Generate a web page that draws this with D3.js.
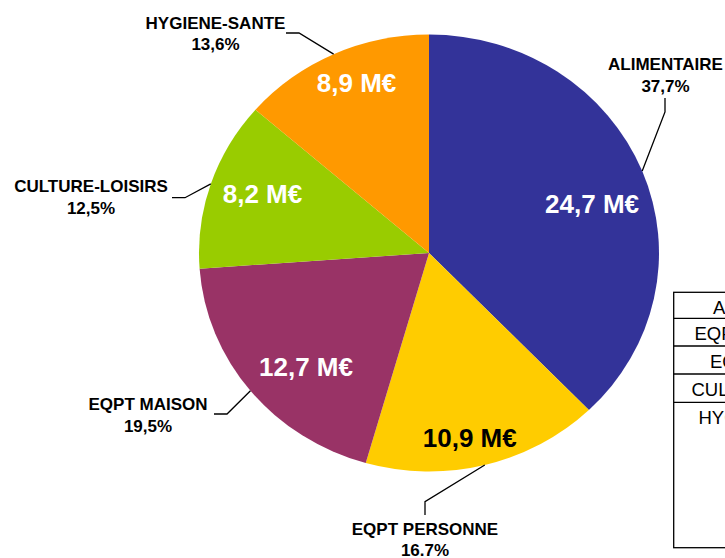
<!DOCTYPE html>
<html><head><meta charset="utf-8">
<script src="https://cdn.jsdelivr.net/npm/d3@7/dist/d3.min.js"></script>
<style>body{margin:0;background:#fff}svg{display:block}</style>
</head><body>
<svg id="c" width="725" height="558"></svg>
<script>
// ---- data ----
const categories = ["ALIMENTAIRE", "EQPT PERSONNE", "EQPT MAISON", "CULTURE-LOISIRS", "HYGIENE-SANTE"];
const values = [24.7, 10.9, 12.7, 8.2, 8.9];           // M€
const valueLabels = ["24,7 M€", "10,9 M€", "12,7 M€", "8,2 M€", "8,9 M€"];
const percentLabels = ["37,7%", "16.7%", "19,5%", "12,5%", "13,6%"];
const tableRows = ["ALIMENTAIRE", "EQPT PERSONNE", "EQPT MAISON", "CULTURE-LOISIRS", "HYGIENE-SANTE"];

// ---- layout / style ----
const colors = ["#333399", "#FFCC00", "#993366", "#99CC00", "#FF9900"];
const valueTextColors = ["#fff", "#000", "#fff", "#fff", "#fff"];
const cx = 429, cy = 253, R = 230, ySquash = 0.95;
// inner label placement: [radius fraction, angle offset (deg)]
const innerPlace = [[0.744, 4.4], [0.863, 2.2], [0.747, -5.2], [0.773, 2.1], [0.841, 2.5]];
// outer label placement: text centre x, first baseline y, line gap, leader end point, elbow point
const outerPlace = [
  {tx: 665.5, ty: 70,  gap: 21.5, end: [665, 98],    elbow: [665, 112]},
  {tx: 425,   ty: 535, gap: 20.5, end: [425, 515],   elbow: [425, 501.7]},
  {tx: 148,   ty: 410, gap: 21.5, end: [214, 414],   elbow: [227, 414]},
  {tx: 91,    ty: 192, gap: 22,   end: [172, 197.7], elbow: [185, 197.7]},
  {tx: 215.5, ty: 29,  gap: 21,   end: [286, 33],    elbow: [299, 33]}
];

const svg = d3.select("#c");
const data = categories.map((c, i) => ({cat: c, value: values[i], i}));
const pie = d3.pie().value(d => d.value).sort(null).startAngle(0).endAngle(2 * Math.PI);
const arcs = pie(data);
const arc = d3.arc().innerRadius(0).outerRadius(R);

const toXY = (ang, r) => [cx + r * Math.sin(ang), cy - r * Math.cos(ang) * ySquash];

const g = svg.append("g").attr("transform", `translate(${cx},${cy}) scale(1,${ySquash})`);
g.selectAll("path").data(arcs).join("path")
  .attr("d", arc).attr("fill", d => colors[d.data.i]);

// inner value labels
arcs.forEach((a, k) => {
  const mid = (a.startAngle + a.endAngle) / 2 + innerPlace[k][1] * Math.PI / 180;
  const [x, y] = toXY(mid, R * innerPlace[k][0]);
  svg.append("text").attr("x", x).attr("y", y).attr("dy", "0.35em")
    .attr("text-anchor", "middle")
    .attr("font-family", "Liberation Sans, Arial, sans-serif")
    .attr("font-weight", "bold").attr("font-size", 26)
    .attr("fill", valueTextColors[k]).text(valueLabels[k]);
});

// outer labels with leader lines
arcs.forEach((a, k) => {
  const mid = (a.startAngle + a.endAngle) / 2;
  const p = toXY(mid, R);
  const o = outerPlace[k];
  svg.append("path")
    .attr("d", d3.line()([o.end, o.elbow, p]))
    .attr("fill", "none").attr("stroke", "#000").attr("stroke-width", 1.3);
  const t = svg.append("text").attr("text-anchor", "middle")
    .attr("font-family", "Liberation Sans, Arial, sans-serif")
    .attr("font-weight", "bold").attr("font-size", 17).attr("fill", "#000");
  t.append("tspan").attr("x", o.tx).attr("y", o.ty).text(a.data.cat);
  t.append("tspan").attr("x", o.tx).attr("y", o.ty + o.gap).text(percentLabels[k]);
});

// partial table on the right
const tx0 = 673.7, rowTops = [292.3, 318.3, 346, 374, 402.3], tBottom = 547.7, tW = 200;
const tg = svg.append("g");
tg.append("rect").attr("x", tx0).attr("y", rowTops[0]).attr("width", tW)
  .attr("height", tBottom - rowTops[0]).attr("fill", "none").attr("stroke", "#000").attr("stroke-width", 1.3);
rowTops.slice(1).forEach(y => tg.append("line").attr("x1", tx0).attr("x2", tx0 + tW)
  .attr("y1", y).attr("y2", y).attr("stroke", "#000").attr("stroke-width", 1.3));
tableRows.forEach((r, i) => {
  tg.append("text").attr("x", 774).attr("y", rowTops[i] + 21.5)
    .attr("text-anchor", "middle").attr("font-family", "Liberation Sans, Arial, sans-serif")
    .attr("font-size", 18.5).attr("fill", "#000").text(r);
});
</script>
</body></html>
